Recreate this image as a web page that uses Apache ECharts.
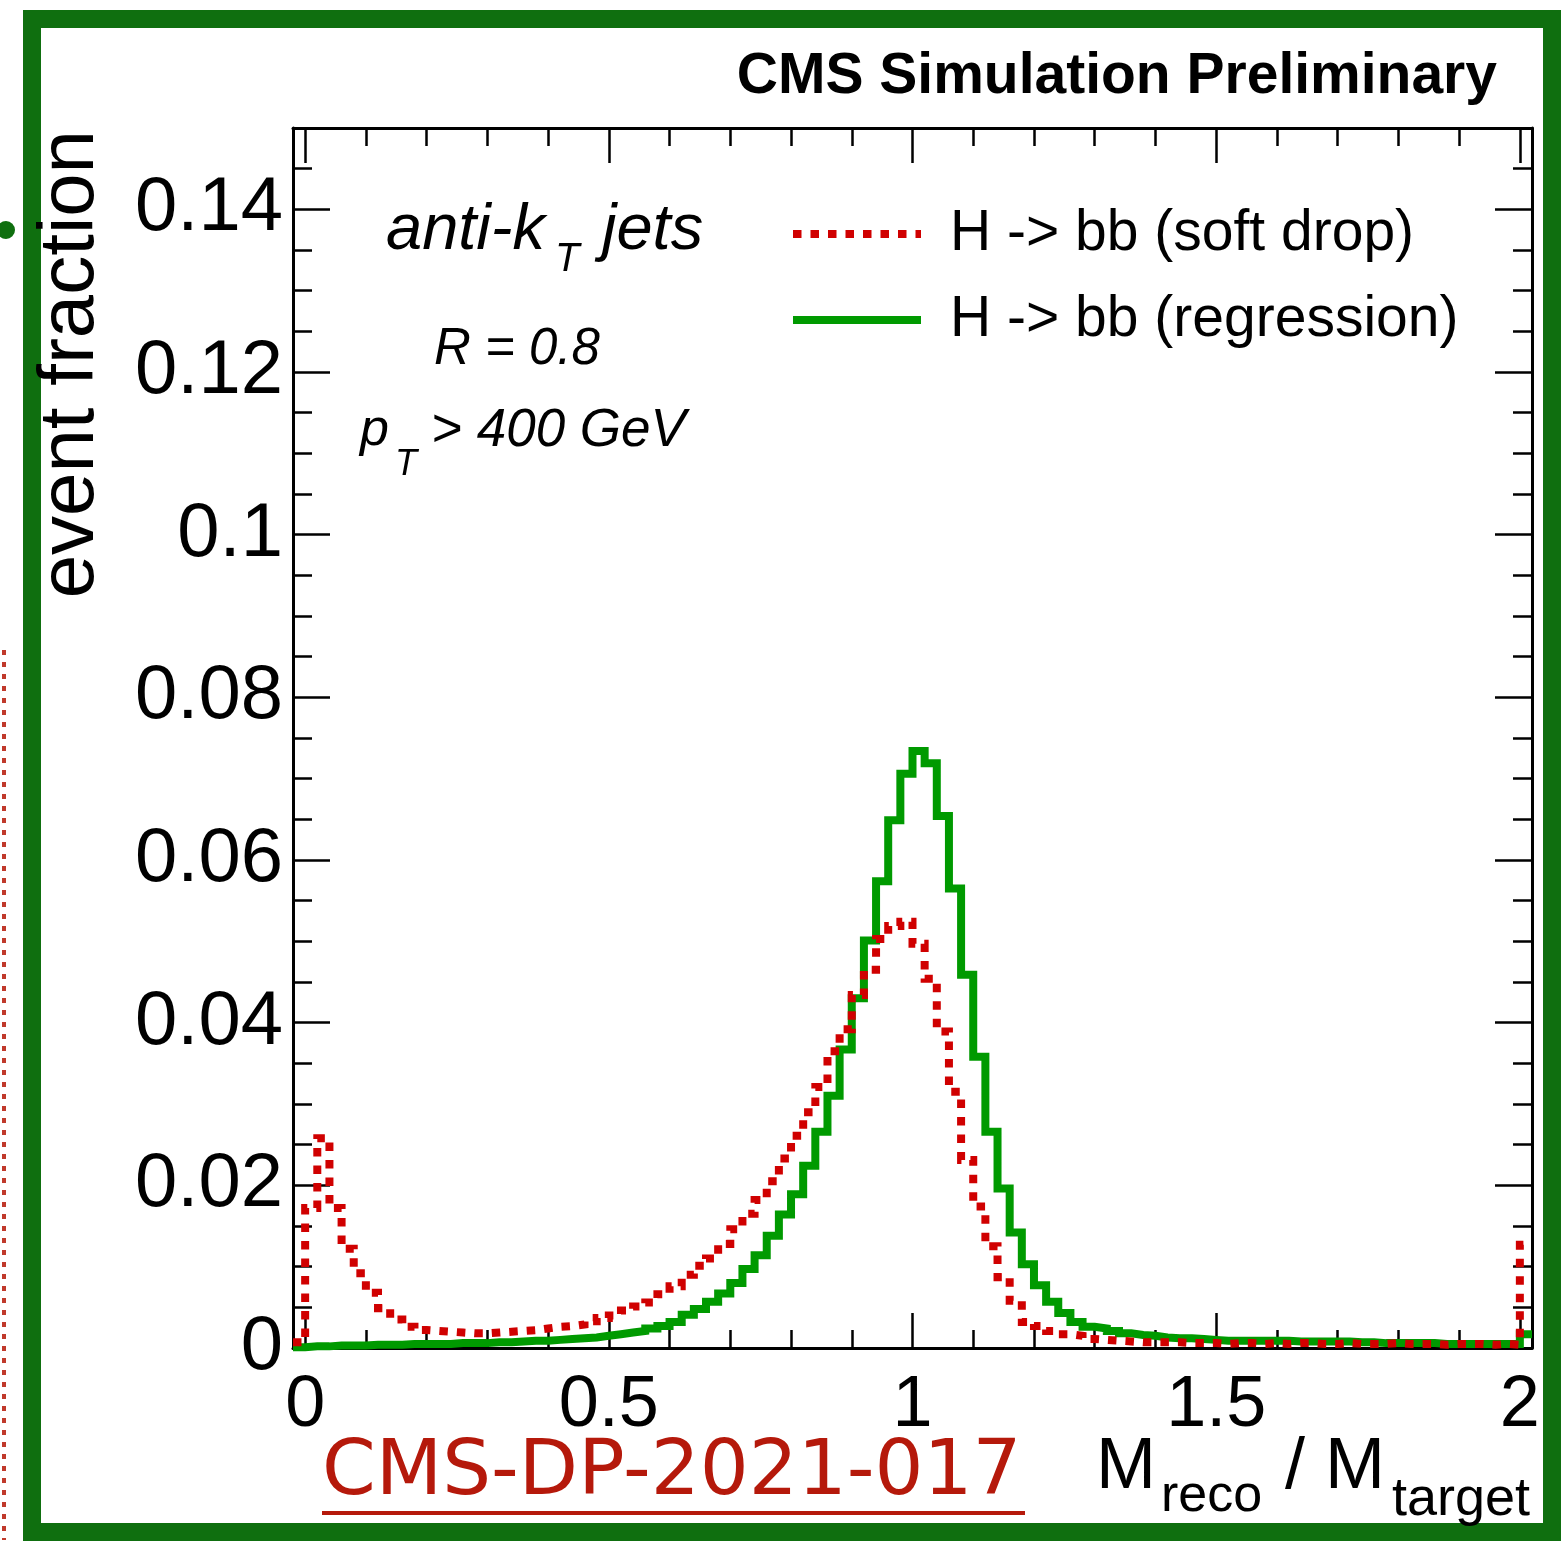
<!DOCTYPE html>
<html>
<head>
<meta charset="utf-8">
<script src="https://cdn.jsdelivr.net/npm/echarts@6/dist/echarts.min.js"></script>
<style>
  html, body { margin: 0; padding: 0; background: #ffffff; }
  #chart { width: 1562px; height: 1543px; }
</style>
</head>
<body>
<div id="chart"></div>
<script>
// Binning: 0.02-wide bins from -0.02 to 2.02 (first and last bins hold under/overflow)
const binStart = -0.02;
const binWidth = 0.02;

// Event fraction per bin, H -> bb, soft-drop jet mass
const softDrop = [
  0.0007,
  0.0172, 0.0258, 0.0172, 0.0122, 0.0092, 0.0068, 0.0049, 0.0035, 0.0026, 0.0022,
  0.0021, 0.0020, 0.0019, 0.0018, 0.0018, 0.0019, 0.0020, 0.0021, 0.0022, 0.0024,
  0.0026, 0.0027, 0.0029, 0.0033, 0.0037, 0.0040, 0.0046, 0.0051, 0.0056, 0.0066,
  0.0076, 0.0090, 0.0101, 0.0110, 0.0128, 0.0146, 0.0165, 0.0182, 0.0205, 0.0233,
  0.0261, 0.0290, 0.0321, 0.0365, 0.0392, 0.0434, 0.0465, 0.0503, 0.0519, 0.0524,
  0.0497, 0.0454, 0.0389, 0.0315, 0.0231, 0.0174, 0.0125, 0.0087, 0.0058, 0.0032,
  0.0027, 0.0021, 0.0017, 0.0015, 0.0011, 0.0010, 0.0009, 0.0008, 0.0007, 0.0007,
  0.0007, 0.0007, 0.0006, 0.0006, 0.0006, 0.0005, 0.0006, 0.0006, 0.0005, 0.0006,
  0.0005, 0.0006, 0.0006, 0.0005, 0.0005, 0.0006, 0.0005, 0.0005, 0.0005, 0.0006,
  0.0005, 0.0005, 0.0005, 0.0004, 0.0005, 0.0005, 0.0005, 0.0004, 0.0005, 0.0004,
  0.0127
];

// Event fraction per bin, H -> bb, regressed jet mass
const regression = [
  0.0001,
  0.0002, 0.0002, 0.0003, 0.0003, 0.0003, 0.0004, 0.0004, 0.0004, 0.0005, 0.0005,
  0.0005, 0.0005, 0.0006, 0.0006, 0.0006, 0.0007, 0.0007, 0.0008, 0.0009, 0.0009,
  0.0010, 0.0011, 0.0012, 0.0013, 0.0015, 0.0017, 0.0019, 0.0021, 0.0024, 0.0027,
  0.0032, 0.0041, 0.0048, 0.0057, 0.0067, 0.0080, 0.0097, 0.0114, 0.0138, 0.0164,
  0.0189, 0.0224, 0.0266, 0.0310, 0.0367, 0.0430, 0.0501, 0.0574, 0.0649, 0.0706,
  0.0734, 0.0719, 0.0654, 0.0565, 0.0459, 0.0358, 0.0266, 0.0196, 0.0142, 0.0103,
  0.0077, 0.0057, 0.0043, 0.0032, 0.0026, 0.0024, 0.0021, 0.0018, 0.0016, 0.0015,
  0.0013, 0.0012, 0.0012, 0.0011, 0.0010, 0.0009, 0.0009, 0.0009, 0.0009, 0.0009,
  0.0009, 0.0008, 0.0008, 0.0008, 0.0008, 0.0008, 0.0007, 0.0007, 0.0006, 0.0006,
  0.0006, 0.0006, 0.0006, 0.0005, 0.0005, 0.0005, 0.0005, 0.0005, 0.0005, 0.0005,
  0.0017
];

const seriesNames = ['H -> bb (soft drop)', 'H -> bb (regression)'];
const xMajorTicks = [0, 0.5, 1, 1.5, 2];
const yMajorTicks = [0, 0.02, 0.04, 0.06, 0.08, 0.1, 0.12, 0.14];

const X_MIN = -0.02, X_MAX = 2.02, Y_MIN = 0, Y_MAX = 0.15;
const FONT = '"Liberation Sans", Arial, Helvetica, sans-serif';
const RED = '#d00000';
const GREEN = '#009a00';

// minor tick positions between the labelled ones
const xMinorTicks = [];
for (let i = 1; i < 20; i++) { if (i % 5 !== 0) xMinorTicks.push(+(i * 0.1).toFixed(3)); }
const yMinorTicks = [];
for (let i = 1; i <= 30; i++) { if (i % 4 !== 0) yMinorTicks.push(+(i * 0.005).toFixed(4)); }

// left bin edges with the bin content, plus the closing edge (drawn as a step outline)
function stepPoints(values) {
  const pts = values.map((v, i) => [+(binStart + i * binWidth).toFixed(4), v]);
  pts.push([+(binStart + values.length * binWidth).toFixed(4), values[values.length - 1]]);
  return pts;
}

function fmt(v) { return String(parseFloat((+v).toFixed(3))); }

function xAxisDef(position, ticks, len, withLabels, withLine) {
  return {
    type: 'value', position: position, min: X_MIN, max: X_MAX,
    axisLine: { show: withLine, onZero: false, lineStyle: { color: '#000', width: 3 } },
    axisTick: { show: true, inside: true, length: len, customValues: ticks, lineStyle: { color: '#000', width: 2.5 } },
    axisLabel: withLabels
      ? { show: true, customValues: xMajorTicks, formatter: fmt, fontSize: 72, fontFamily: FONT, color: '#000', margin: 22 }
      : { show: false },
    splitLine: { show: false }, minorTick: { show: false }
  };
}
function yAxisDef(position, ticks, len, withLabels, withLine) {
  return {
    type: 'value', position: position, min: Y_MIN, max: Y_MAX,
    axisLine: { show: withLine, onZero: false, lineStyle: { color: '#000', width: 3 } },
    axisTick: { show: true, inside: true, length: len, customValues: ticks, lineStyle: { color: '#000', width: 2.5 } },
    axisLabel: withLabels
      ? { show: true, customValues: yMajorTicks, formatter: fmt, fontSize: 76, fontFamily: FONT, color: '#000', margin: 10 }
      : { show: false },
    splitLine: { show: false }, minorTick: { show: false }
  };
}

function txt(text, x, y, size, opts) {
  opts = opts || {};
  return {
    type: 'text', x: x, y: y, z: 100, rotation: opts.rotation || 0,
    style: {
      text: text, fill: opts.color || '#000', fontSize: size, fontFamily: opts.family || FONT,
      fontStyle: opts.italic ? 'italic' : 'normal', fontWeight: opts.bold ? 'bold' : 'normal',
      align: opts.align || 'left', verticalAlign: 'middle'
    }
  };
}

const chart = echarts.init(document.getElementById('chart'), null, { renderer: 'canvas' });

chart.setOption({
  animation: false,
  backgroundColor: '#ffffff',
  grid: { left: 293, right: 30, top: 128, bottom: 195, containLabel: false },
  xAxis: [
    xAxisDef('bottom', xMajorTicks, 35, true, true),
    xAxisDef('bottom', xMinorTicks, 18, false, false),
    xAxisDef('top', xMajorTicks, 35, false, true),
    xAxisDef('top', xMinorTicks, 18, false, false)
  ],
  yAxis: [
    yAxisDef('left', yMajorTicks, 37, true, true),
    yAxisDef('left', yMinorTicks, 19, false, false),
    yAxisDef('right', yMajorTicks, 37, false, true),
    yAxisDef('right', yMinorTicks, 19, false, false)
  ],
  series: [
    {
      name: seriesNames[1], type: 'line', step: 'end', xAxisIndex: 0, yAxisIndex: 0,
      data: stepPoints(regression), showSymbol: false, clip: false, z: 3,
      lineStyle: { color: GREEN, width: 8, cap: 'butt', join: 'miter' }
    },
    {
      name: seriesNames[0], type: 'line', step: 'end', xAxisIndex: 0, yAxisIndex: 0,
      data: stepPoints(softDrop), showSymbol: false, clip: false, z: 4,
      lineStyle: { color: RED, width: 8, type: [8.5, 9], cap: 'butt', join: 'miter' }
    }
  ],
  graphic: {
    elements: [
      // outer frame
      { type: 'rect', z: 90, shape: { x: 32, y: 19, width: 1520, height: 1513 },
        style: { fill: 'none', stroke: '#0f6f0f', lineWidth: 18 } },
      { type: 'line', z: 90, shape: { x1: 4, y1: 650, x2: 4, y2: 1540 },
        style: { stroke: '#c0392b', lineWidth: 4, lineDash: [5, 7] } },
      { type: 'circle', z: 90, shape: { cx: 6, cy: 230, r: 9 }, style: { fill: '#0f6f0f' } },

      // header
      txt('CMS Simulation Preliminary', 1497, 77, 57, { bold: true, align: 'right' }),

      // selection text
      txt('anti-k', 386, 231, 65, { italic: true }),
      txt('T', 555, 260, 40, { italic: true }),
      txt('jets', 602, 231, 65, { italic: true }),
      txt('R = 0.8', 434, 350, 51, { italic: true }),
      txt('p', 360, 431, 52, { italic: true }),
      txt('T', 395, 465, 36, { italic: true }),
      txt('> 400 GeV', 431, 431, 53, { italic: true }),

      // legend
      { type: 'line', z: 100, shape: { x1: 793, y1: 234, x2: 921, y2: 234 },
        style: { stroke: RED, lineWidth: 8, lineDash: [8.5, 9] } },
      { type: 'line', z: 100, shape: { x1: 793, y1: 320, x2: 921, y2: 320 },
        style: { stroke: GREEN, lineWidth: 8 } },
      txt(seriesNames[0], 950, 234, 57),
      txt(seriesNames[1], 950, 320, 57),

      // axis titles
      txt('event fraction', 71, 130, 78, { align: 'right', rotation: Math.PI / 2 }),
      txt('M', 1096, 1468, 72),
      txt('reco', 1161, 1497, 52),
      txt('/ M', 1285, 1468, 72),
      txt('target', 1392, 1500, 54),

      // note reference
      txt('CMS-DP-2021-017', 322, 1474, 77, { color: '#b5190b', family: '"DejaVu Sans", sans-serif' }),
      { type: 'line', z: 100, shape: { x1: 322, y1: 1513, x2: 1025, y2: 1513 },
        style: { stroke: '#b5190b', lineWidth: 4 } }
    ]
  }
});
</script>
</body>
</html>
